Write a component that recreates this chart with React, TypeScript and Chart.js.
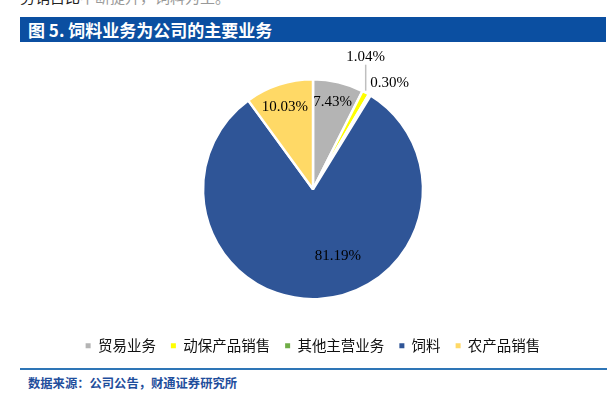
import React, { useEffect, useRef } from "react";
import { Chart, registerables } from "chart.js";

Chart.register(...registerables);

const TITLE = "图 5. 饲料业务为公司的主要业务";
const SOURCE = "数据来源：公司公告，财通证券研究所";
const CATEGORIES = ["贸易业务", "动保产品销售", "其他主营业务", "饲料", "农产品销售"];
const SHARES = [7.43, 1.04, 0.3, 81.19, 10.03];
const LABELS = ["7.43%", "1.04%", "0.30%", "81.19%", "10.03%"];
const COLORS = ["#B4B4B4", "#FFFF00", "#70AD47", "#2F5597", "#FFD966"];

// label placement styling (per slice): inside labels use polar offsets; outside ones use anchor offsets
const LABEL_STYLE: any[] = [
  { kind: "in", r: 0.81, dA: -0.7 },
  { kind: "leader", len: 26, gap: 8 },
  { kind: "out", dx: 20, dy: -12 },
  { kind: "in", r: 0.65, dA: -18 },
  { kind: "in", r: 0.79, dA: -0.9 },
];

const labelPlugin = {
  id: "sliceLabels",
  afterDatasetsDraw(chart: any) {
    const ctx = chart.ctx;
    const meta = chart.getDatasetMeta(0);
    ctx.save();
    ctx.font = "15px 'Liberation Serif', 'Times New Roman', serif";
    ctx.fillStyle = "#000";
    ctx.textAlign = "center";
    ctx.textBaseline = "middle";
    meta.data.forEach((arc: any, i: number) => {
      const { x, y, startAngle, endAngle, outerRadius } = arc.getProps(
        ["x", "y", "startAngle", "endAngle", "outerRadius"],
        true
      );
      const mid = (startAngle + endAngle) / 2;
      const st = LABEL_STYLE[i];
      if (st.kind === "in") {
        const a = mid + (st.dA * Math.PI) / 180;
        const r = outerRadius * st.r;
        ctx.fillText(LABELS[i], x + Math.cos(a) * r, y + Math.sin(a) * r);
      } else if (st.kind === "leader") {
        const ex = x + Math.cos(mid) * outerRadius;
        const ey = y + Math.sin(mid) * outerRadius;
        ctx.strokeStyle = "#BFBFBF";
        ctx.lineWidth = 1.5;
        ctx.beginPath();
        ctx.moveTo(ex, ey - 2);
        ctx.lineTo(ex, ey - 2 - st.len);
        ctx.stroke();
        ctx.fillText(LABELS[i], ex, ey - 2 - st.len - st.gap);
      } else {
        const ex = x + Math.cos(mid) * outerRadius;
        const ey = y + Math.sin(mid) * outerRadius;
        ctx.fillText(LABELS[i], ex + st.dx, ey + st.dy);
      }
    });
    ctx.restore();
  },
};

export default function App() {
  const ref = useRef<HTMLCanvasElement>(null);
  useEffect(() => {
    if (!ref.current) return;
    const chart = new Chart(ref.current, {
      type: "pie",
      data: {
        labels: CATEGORIES,
        datasets: [
          {
            data: SHARES,
            backgroundColor: COLORS,
            borderColor: "#FFFFFF",
            borderWidth: 2.5,
            radius: 110,
          } as any,
        ],
      },
      options: {
        responsive: false,
        animation: false,
        devicePixelRatio: 1,
        layout: { padding: { top: 10, bottom: 2, left: 11, right: 0 } },
        plugins: {
          tooltip: { enabled: false },
          legend: {
            position: "bottom",
            labels: {
              boxWidth: 5,
              boxHeight: 5,
              padding: 15,
              color: "#111",
              font: { size: 14.5, family: "'Noto Sans CJK SC', sans-serif" },
              generateLabels(chart: any) {
                const items = Chart.overrides.pie.plugins.legend.labels.generateLabels(chart);
                return items.map((it: any) => ({ ...it, lineWidth: 0, strokeStyle: "rgba(0,0,0,0)" }));
              },
            },
          },
        },
      },
      plugins: [labelPlugin],
    });
    return () => chart.destroy();
  }, []);

  return (
    <div
      style={{
        position: "fixed",
        left: 0,
        top: 0,
        width: 615,
        height: 398,
        background: "#fff",
        overflow: "hidden",
        fontFamily: "'Noto Sans CJK SC', sans-serif",
      }}
    >
      <div
        style={{
          position: "absolute",
          left: 20,
          top: -11,
          fontSize: 15,
          lineHeight: "15px",
          whiteSpace: "nowrap",
          color: "#222",
        }}
      >
        务销占比<span style={{ color: "#999" }}>不断提升，饲料为主。</span>
      </div>
      <div
        style={{
          position: "absolute",
          left: 20,
          top: 17,
          width: 586,
          height: 25,
          background: "#0B4FA1",
          color: "#fff",
          fontSize: 17,
          fontWeight: 700,
          lineHeight: "25px",
          paddingLeft: 8,
          boxSizing: "border-box",
          whiteSpace: "nowrap",
        }}
      >
        {TITLE}
      </div>
      <canvas
        ref={ref}
        width={615}
        height={320}
        style={{ position: "absolute", left: 0, top: 45, width: 615, height: 320 }}
      />
      <div
        style={{
          position: "absolute",
          left: 20,
          top: 368,
          width: 587,
          height: 1.5,
          background: "#2E75B6",
        }}
      />
      <div
        style={{
          position: "absolute",
          left: 28,
          top: 375,
          fontSize: 12.3,
          fontWeight: 700,
          lineHeight: "16px",
          color: "#1F4E9C",
          whiteSpace: "nowrap",
        }}
      >
        {SOURCE}
      </div>
    </div>
  );
}
